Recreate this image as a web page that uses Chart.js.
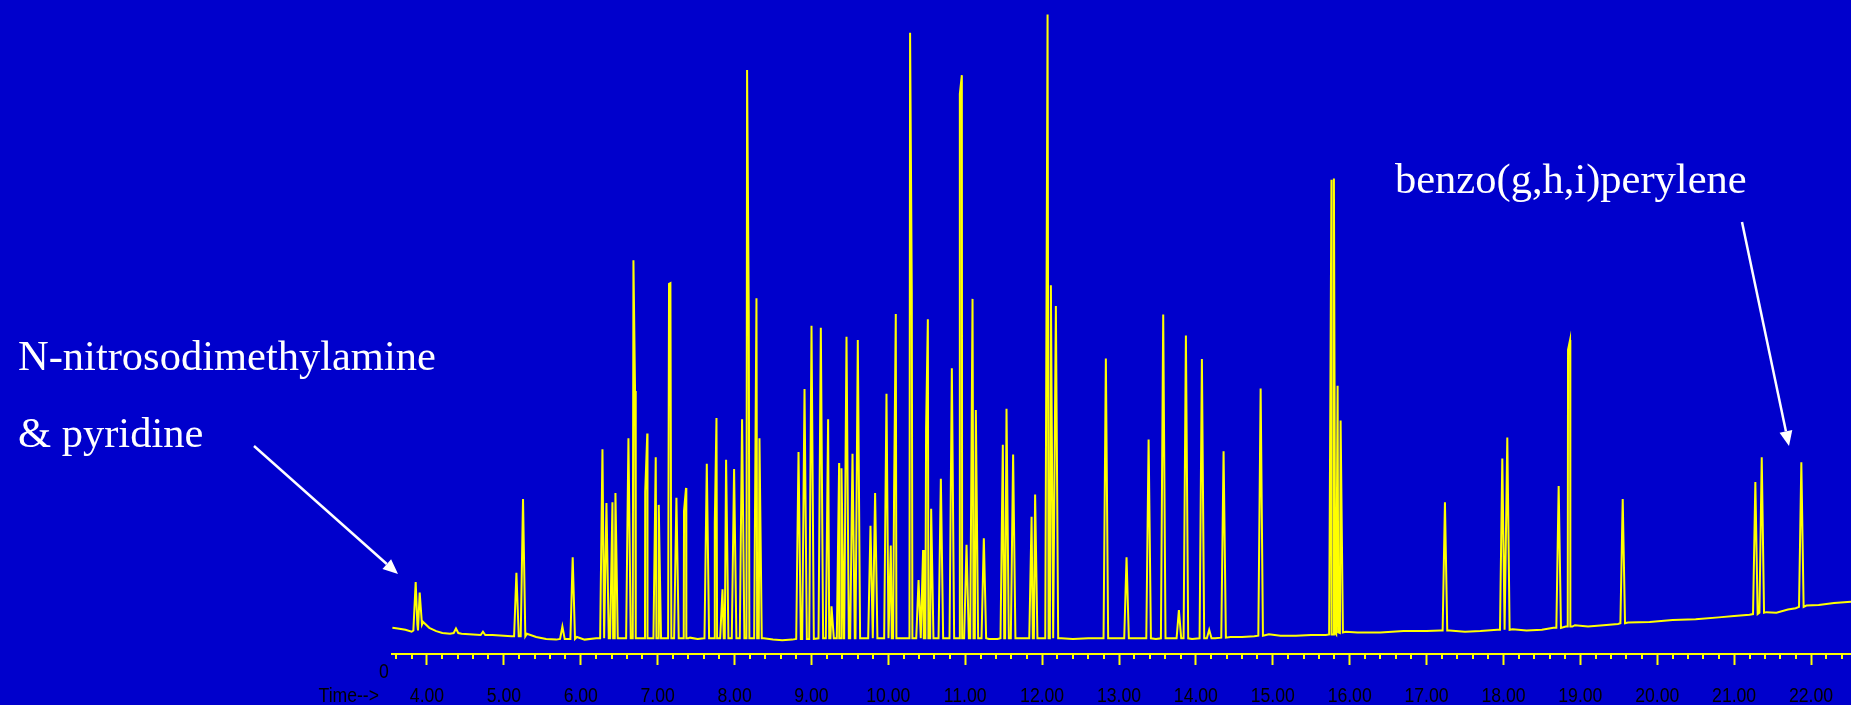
<!DOCTYPE html>
<html>
<head>
<meta charset="utf-8">
<script src="https://cdn.jsdelivr.net/npm/chart.js@4"></script>
<style>
  html, body { margin: 0; padding: 0; background: #0000cc; }
  #wrap { width: 1851px; height: 705px; }
</style>
</head>
<body>
<div id="wrap"><canvas id="tic" width="1851" height="705"></canvas></div>
<script>
// time window of the run (min)
const timeMin = 3.545;
const timeMax = 22.52;

// peak apexes: retention time (min), abundance, local baseline under the peak
const peakTimes = [3.853, 3.905, 4.377, 4.728, 5.163, 5.249, 5.761, 5.895,
  6.282, 6.334, 6.412, 6.451, 6.620, 6.685, 6.706, 6.838, 6.865, 6.975, 7.014, 7.148, 7.166,
  7.244, 7.343, 7.369, 7.639, 7.743, 7.765, 7.843, 7.890, 7.994, 8.098, 8.163, 8.185, 8.285, 8.324,
  8.832, 8.910, 9.001, 9.122, 9.217, 9.261, 9.360, 9.391, 9.456, 9.534, 9.603, 9.768, 9.828,
  9.976, 10.032, 10.075, 10.097, 10.283, 10.305, 10.393, 10.452, 10.491, 10.514, 10.557, 10.683,
  10.826, 10.930, 10.956, 11.017, 11.095, 11.138, 11.242, 11.489, 11.537, 11.623, 11.863, 11.909,
  12.071, 12.114, 12.179, 12.829, 13.098, 13.385, 13.575, 13.779, 13.870, 14.078, 14.173, 14.360,
  14.842, 15.763, 15.795, 15.843, 15.882, 17.239, 17.985, 18.050, 18.718, 18.840, 18.866, 19.551,
  21.276, 21.359, 21.874];
const peakHeights = [110, 94, 39, 34, 124, 237, 42, 148,
  313, 231, 232, 246, 330, 602, 402, 248, 337, 301, 228, 566, 567,
  239, 219, 254, 291, 199, 361, 99, 297, 283, 359, 893, 521, 544, 330,
  309, 405, 502, 499, 359, 73, 292, 284, 485, 306, 480, 196, 246,
  398, 166, 249, 520, 950, 553, 113, 159, 345, 512, 222, 268,
  437, 856, 885, 167, 543, 373, 177, 320, 375, 305, 210, 244,
  978, 564, 532, 452, 148, 328, 519, 67, 487, 451, 37, 310,
  406, 725, 727, 410, 357, 232, 299, 331, 257, 465, 480, 237,
  263, 301, 293];
const peakBases = [36, 45, 32, 29, 27, 27, 23, 23,
  24, 24, 24, 24, 24, 24, 24, 24, 24, 24, 24, 24, 24,
  24, 24, 24, 24, 24, 24, 24, 24, 24, 24, 24, 24, 24, 24,
  23, 23, 23, 24, 24, 24, 24, 24, 24, 24, 24, 24, 24,
  24, 24, 24, 24, 24, 24, 24, 24, 24, 24, 24, 24,
  24, 24, 24, 24, 24, 24, 24, 24, 24, 24, 24, 24,
  24, 24, 24, 24, 24, 24, 24, 24, 24, 24, 24, 25,
  28, 30, 30, 32, 33, 36, 37, 37, 40, 42, 42, 47,
  61, 63, 72];

// baseline between the peaks
const baseTimes = [3.55, 3.62, 3.72, 3.80, 3.95, 4.03, 4.12, 4.20, 4.30, 4.45, 4.60, 4.85, 5.00,
  5.10, 5.30, 5.42, 5.55, 5.68, 5.95, 6.05, 6.20, 7.42, 7.52, 7.60, 8.38, 8.50, 8.62, 8.75,
  10.16, 10.23, 10.62, 10.75, 10.88, 11.31, 11.42, 11.70, 11.80, 12.25, 12.40, 12.60, 12.76,
  12.95, 13.20, 13.31, 13.48, 13.68, 13.95, 14.25, 14.45, 14.60, 14.76, 14.95, 15.10, 15.30,
  15.50, 15.69, 15.95, 16.10, 16.40, 16.70, 17.00, 17.18, 17.30, 17.50, 17.70, 17.92, 18.12,
  18.30, 18.50, 18.65, 18.93, 19.10, 19.30, 19.49, 19.62, 19.90, 20.20, 20.50, 20.80, 21.00,
  21.20, 21.42, 21.55, 21.70, 21.80, 21.94, 22.10, 22.30, 22.52];
const baseLevels = [40, 39, 37, 34, 49, 40, 35, 32, 31, 31, 30, 29, 28,
  27, 31, 26, 23, 22, 26, 22, 24, 25, 23, 24, 24, 22, 21, 22,
  24, 24, 24, 24, 24, 23, 23, 24, 24, 24, 23, 24, 24,
  24, 24, 24, 23, 24, 23, 24, 26, 26, 27, 30, 28, 28,
  29, 29, 34, 33, 33, 35, 35, 36, 36, 34, 35, 37, 38,
  36, 37, 40, 44, 42, 44, 46, 48, 49, 52, 53, 56, 58,
  60, 64, 63, 68, 70, 74, 75, 78, 80];

const peakHalfWidth = 0.03; // min, half the width at the base

const yellow = '#ffff00';
const white = '#ffffff';

// labels with arrows (canvas px)
const notes = [
  { lines: ['N-nitrosodimethylamine', '& pyridine'], x: 18, y: 370, gap: 77,
    from: [254, 446], to: [398, 574] },
  { lines: ['benzo(g,h,i)perylene'], x: 1395, y: 193, gap: 0,
    from: [1742, 222], to: [1789, 446] }
];

function buildTrace() {
  const pts = baseTimes.map((t, i) => ({ x: t, y: baseLevels[i] }));
  peakTimes.forEach((t, i) => {
    pts.push({ x: t - peakHalfWidth, y: peakBases[i] });
    pts.push({ x: t, y: peakHeights[i] });
    pts.push({ x: t + peakHalfWidth, y: peakBases[i] });
  });
  pts.sort((a, b) => a.x - b.x);
  return pts;
}

const isWhole = v => Math.abs(v - Math.round(v)) < 1e-6;

function arrow(ctx, from, to) {
  const ang = Math.atan2(to[1] - from[1], to[0] - from[0]);
  const len = 15, half = 6.5;
  const bx = to[0] - len * Math.cos(ang), by = to[1] - len * Math.sin(ang);
  ctx.beginPath();
  ctx.moveTo(from[0], from[1]);
  ctx.lineTo(bx, by);
  ctx.stroke();
  ctx.beginPath();
  ctx.moveTo(to[0], to[1]);
  ctx.lineTo(bx + half * Math.sin(ang), by - half * Math.cos(ang));
  ctx.lineTo(bx - half * Math.sin(ang), by + half * Math.cos(ang));
  ctx.closePath();
  ctx.fill();
}

// squeezed axis text, like the old ChemStation printout
function axisText(ctx, s, x, y, align) {
  const sx = 0.88;
  ctx.save();
  ctx.translate(x, y);
  ctx.scale(sx, 1);
  ctx.textAlign = align;
  ctx.fillText(s, 0, 0);
  ctx.restore();
}

const extras = {
  id: 'extras',
  beforeDraw(chart) {
    const ctx = chart.ctx;
    ctx.save();
    ctx.fillStyle = '#0000cc';
    ctx.fillRect(0, 0, chart.width, chart.height);
    ctx.restore();
  },
  afterDraw(chart) {
    const ctx = chart.ctx;
    const xs = chart.scales.x;
    ctx.save();
    // minor ticks
    ctx.strokeStyle = yellow;
    ctx.lineWidth = 2;
    xs.ticks.forEach(t => {
      if (isWhole(t.value)) return;
      const px = Math.round(xs.getPixelForValue(t.value));
      ctx.beginPath();
      ctx.moveTo(px, xs.top);
      ctx.lineTo(px, xs.top + 5);
      ctx.stroke();
    });
    // tick labels and axis captions
    ctx.fillStyle = '#000';
    ctx.font = '20px "Liberation Sans"';
    ctx.textBaseline = 'alphabetic';
    xs.ticks.forEach(t => {
      if (!isWhole(t.value)) return;
      axisText(ctx, Math.round(t.value).toFixed(2), xs.getPixelForValue(t.value), 702, 'center');
    });
    axisText(ctx, '0', xs.left - 8, xs.top + 24, 'center');
    axisText(ctx, 'Time-->', xs.left - 13, 702, 'right');
    // annotations
    ctx.fillStyle = white;
    ctx.strokeStyle = white;
    ctx.lineWidth = 2.5;
    ctx.font = '42.5px "Liberation Serif"';
    ctx.textAlign = 'left';
    notes.forEach(n => {
      n.lines.forEach((s, i) => ctx.fillText(s, n.x, n.y + i * n.gap));
      arrow(ctx, n.from, n.to);
    });
    ctx.restore();
  }
};

new Chart(document.getElementById('tic'), {
  type: 'line',
  data: {
    datasets: [{
      label: 'TIC',
      data: buildTrace(),
      borderColor: yellow,
      borderWidth: 2,
      pointRadius: 0,
      pointHoverRadius: 0,
      tension: 0,
      fill: false
    }]
  },
  options: {
    responsive: false,
    animation: false,
    events: [],
    layout: { autoPadding: false, padding: { left: 392, right: 0, top: 0, bottom: 0 } },
    plugins: { legend: { display: false }, tooltip: { enabled: false } },
    scales: {
      x: {
        type: 'linear',
        min: timeMin,
        max: timeMax,
        afterFit: s => { s.height = 51; },
        border: { display: true, color: yellow, width: 2 },
        grid: {
          drawOnChartArea: false,
          tickLength: 11,
          tickWidth: 2,
          tickColor: c => isWhole(c.tick.value) ? yellow : 'rgba(0,0,0,0)'
        },
        ticks: {
          stepSize: 0.2,
          includeBounds: false,
          autoSkip: false,
          maxRotation: 0,
          display: false
        }
      },
      y: {
        display: false,
        min: 0,
        max: 1000
      }
    }
  },
  plugins: [extras]
});
</script>
</body>
</html>
